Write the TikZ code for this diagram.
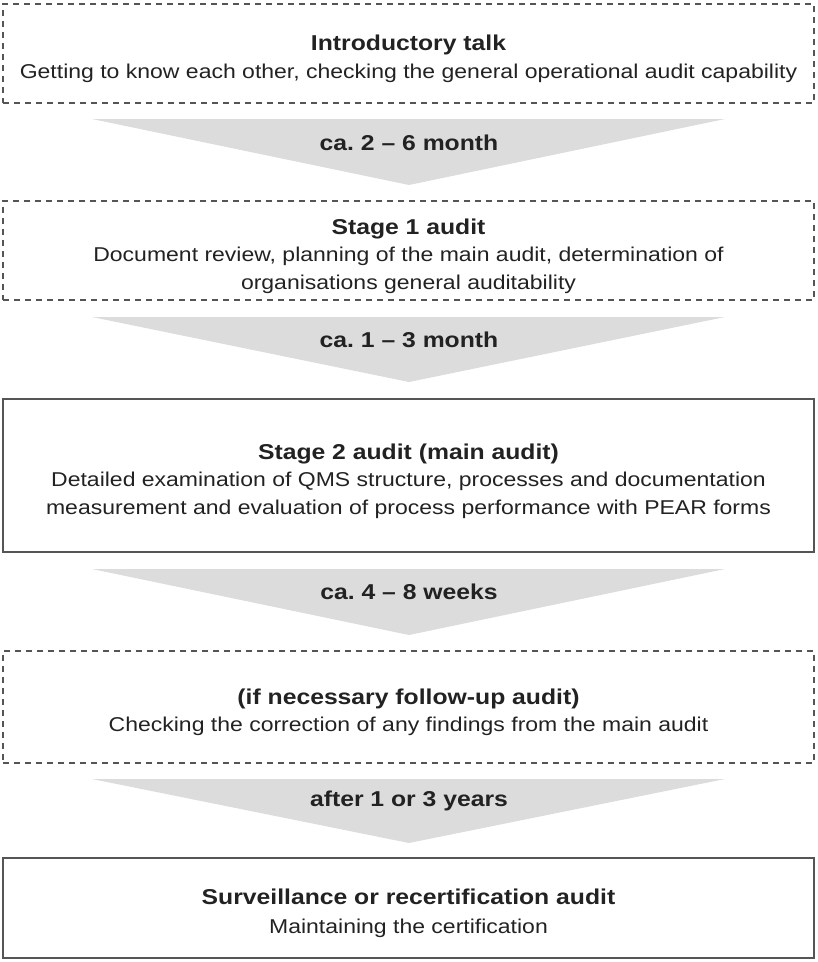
\documentclass[tikz,border=0pt]{standalone}
\usepackage{fontspec}
\setmainfont{Liberation Sans}[FakeStretch=1.15]
\usetikzlibrary{positioning}
\frenchspacing
\definecolor{framegray}{HTML}{555555}
\definecolor{arrowgray}{HTML}{DCDCDC}
\definecolor{textgray}{HTML}{222222}
% struts keep the text of every box at the same place
\newcommand{\steptitle}[2][28pt]{\rule{0pt}{#1}{\bfseries\fontsize{21.5}{27.5}\selectfont #2}}
\newcommand{\lastline}{\rule[-6pt]{0pt}{6pt}}
\tikzset{x=1pt, y=-1pt, % picture measured in pixels from the top
stagebox/.style={ % solid audit box
draw=framegray,
line width=1.3pt,
minimum width=811pt,
align=center,
inner sep=0pt,
text=textgray,
font=\fontsize{20}{27.5}\selectfont},
optbox/.style={ % optional steps get a dashed frame
stagebox,
dash pattern=on 6pt off 5pt},
gaparrow/.style={fill=arrowgray},
gaplabel/.style={text=textgray, font=\bfseries\fontsize{21.5}{24}\selectfont}}
\begin{document}
\begin{tikzpicture}
  \useasboundingbox (0,0) rectangle (818,962);

  \node[optbox, minimum height=99pt] (intro) at (408.5,53.5)
    {\steptitle{Introductory talk}\\Getting to know each other, checking the general operational audit capability\lastline};
  \node[optbox, minimum height=99pt] (stage1) at (408.5,250.5)
    {\steptitle{Stage 1 audit}\\Document review, planning of the main audit, determination of\\organisations general auditability\lastline};
  \node[stagebox, minimum height=153pt] (stage2) at (408.5,475.5)
    {\steptitle{Stage 2 audit (main audit)}\\Detailed examination of QMS structure, processes and documentation\\measurement and evaluation of process performance with PEAR forms\lastline};
  \node[optbox, minimum height=112pt] (followup) at (408.5,707)
    {\steptitle{(if necessary follow-up audit)}\\Checking the correction of any findings from the main audit\lastline};
  \node[stagebox, minimum height=100pt] (recert) at (408.5,908)
    {\steptitle[27.6pt]{Surveillance or recertification audit}\\[1.5pt]Maintaining the certification\lastline};

  \fill[gaparrow] (92,119) -- (725,119) -- (409,185) -- cycle;
  \node[gaplabel] (gap1) at (409,143) {ca. 2 -- 6 month};
  \fill[gaparrow] (92,317) -- (725,317) -- (409,382) -- cycle;
  \node[gaplabel] (gap2) at (409,340) {ca. 1 -- 3 month};
  \fill[gaparrow] (92,569) -- (725,569) -- (409,635) -- cycle;
  \node[gaplabel] (gap3) at (409,592) {ca. 4 -- 8 weeks};
  \fill[gaparrow] (92,779) -- (725,779) -- (409,843) -- cycle;
  \node[gaplabel] (gap4) at (409,801) {after 1 or 3 years};
\end{tikzpicture}
\end{document}
